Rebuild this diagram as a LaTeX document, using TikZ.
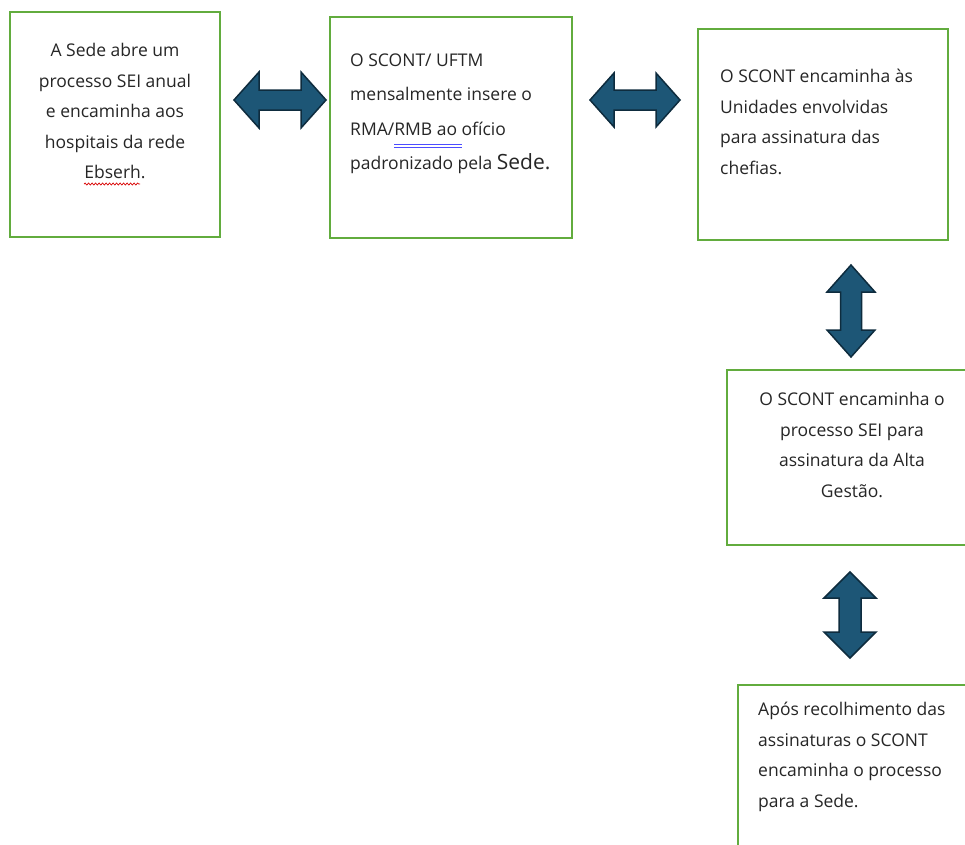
\documentclass[tikz,border=0pt]{standalone}
\usepackage{fontspec}
\setmainfont{Open Sans}
\usetikzlibrary{decorations.pathmorphing}
\definecolor{boxgreen}{RGB}{98,172,62}
\definecolor{arrfill}{RGB}{29,86,118}
\definecolor{arrline}{RGB}{14,44,62}
\definecolor{txt}{RGB}{38,38,38}
\tikzset{
  flowbox/.style={draw=boxgreen, line width=2.6pt, fill=white, inner sep=0pt},
  boxtext/.style={text=txt, inner sep=0pt, font=\fontsize{17.5}{30.5}\selectfont},
  blockarrow/.style={fill=arrfill, draw=arrline, line width=1.5pt, line join=miter},
  pics/harrow/.style args={#1/#2/#3/#4}{code={
    \draw[blockarrow] (-#1,0) -- (-#1+#2,#3) -- (-#1+#2,#4) -- (#1-#2,#4) -- (#1-#2,#3)
      -- (#1,0) -- (#1-#2,-#3) -- (#1-#2,-#4) -- (-#1+#2,-#4) -- (-#1+#2,-#3) -- cycle;}},
  pics/varrow/.style args={#1/#2/#3/#4}{code={
    \draw[blockarrow] (0,-#1) -- (#3,-#1+#2) -- (#4,-#1+#2) -- (#4,#1-#2) -- (#3,#1-#2)
      -- (0,#1) -- (-#3,#1-#2) -- (-#4,#1-#2) -- (-#4,-#1+#2) -- (-#3,-#1+#2) -- cycle;}}
}
\begin{document}
\begin{tikzpicture}[x=1pt,y=-1pt]
\clip (0,0) rectangle (965,844);
\fill[white] (0,0) rectangle (965,844);
% boxes
\node[flowbox, minimum width=210pt, minimum height=225pt] (b1) at (115,124.5) {};
\node[flowbox, minimum width=242pt, minimum height=221pt] (b2) at (451,127.5) {};
\node[flowbox, minimum width=250pt, minimum height=211pt] (b3) at (823,134.5) {};
\node[flowbox, minimum width=244pt, minimum height=175pt] (b4) at (849,457.5) {};
\node[flowbox, minimum width=240pt, minimum height=200pt] (b5) at (858,785) {};
% texts
\node[boxtext, align=center] (t1) at (115,111) {A Sede abre um\\processo SEI anual\\e encaminha aos\\hospitais da rede\\Ebserh.};
\node[boxtext, align=left, anchor=west, font=\fontsize{17.5}{34.5}\selectfont] (t2) at (350,114) {O SCONT/ UFTM\\mensalmente insere o\\RMA/RMB ao ofício\\padronizado pela {\fontsize{21}{34.5}\selectfont Sede.}};
\node[boxtext, align=left, anchor=west] (t3) at (720,122) {O SCONT encaminha às\\Unidades envolvidas\\para assinatura das\\chefias.};
\node[boxtext, align=center] (t4) at (852,445) {O SCONT encaminha o\\processo SEI para\\assinatura da Alta\\Gestão.};
\node[boxtext, align=left, anchor=west] (t5) at (758,757) {Após recolhimento das\\assinaturas o SCONT\\encaminha o processo\\para a Sede.};
% proofing marks
\draw[red!85!black, line width=0.7pt, decorate, decoration={snake, amplitude=1pt, segment length=3.5pt}] (84,184) -- (140,184);
\draw[blue!70!white, line width=0.8pt] (394,144) -- (462,144) (394,147.5) -- (462,147.5);
% block arrows between boxes
\pic at (280,100) {harrow={46/25/28/10}};
\pic at (635,100) {harrow={45/24/27/10}};
\pic at (851,311) {varrow={46/27/24/10.5}};
\pic at (850,615) {varrow={43/26/26/11}};
\end{tikzpicture}
\end{document}
